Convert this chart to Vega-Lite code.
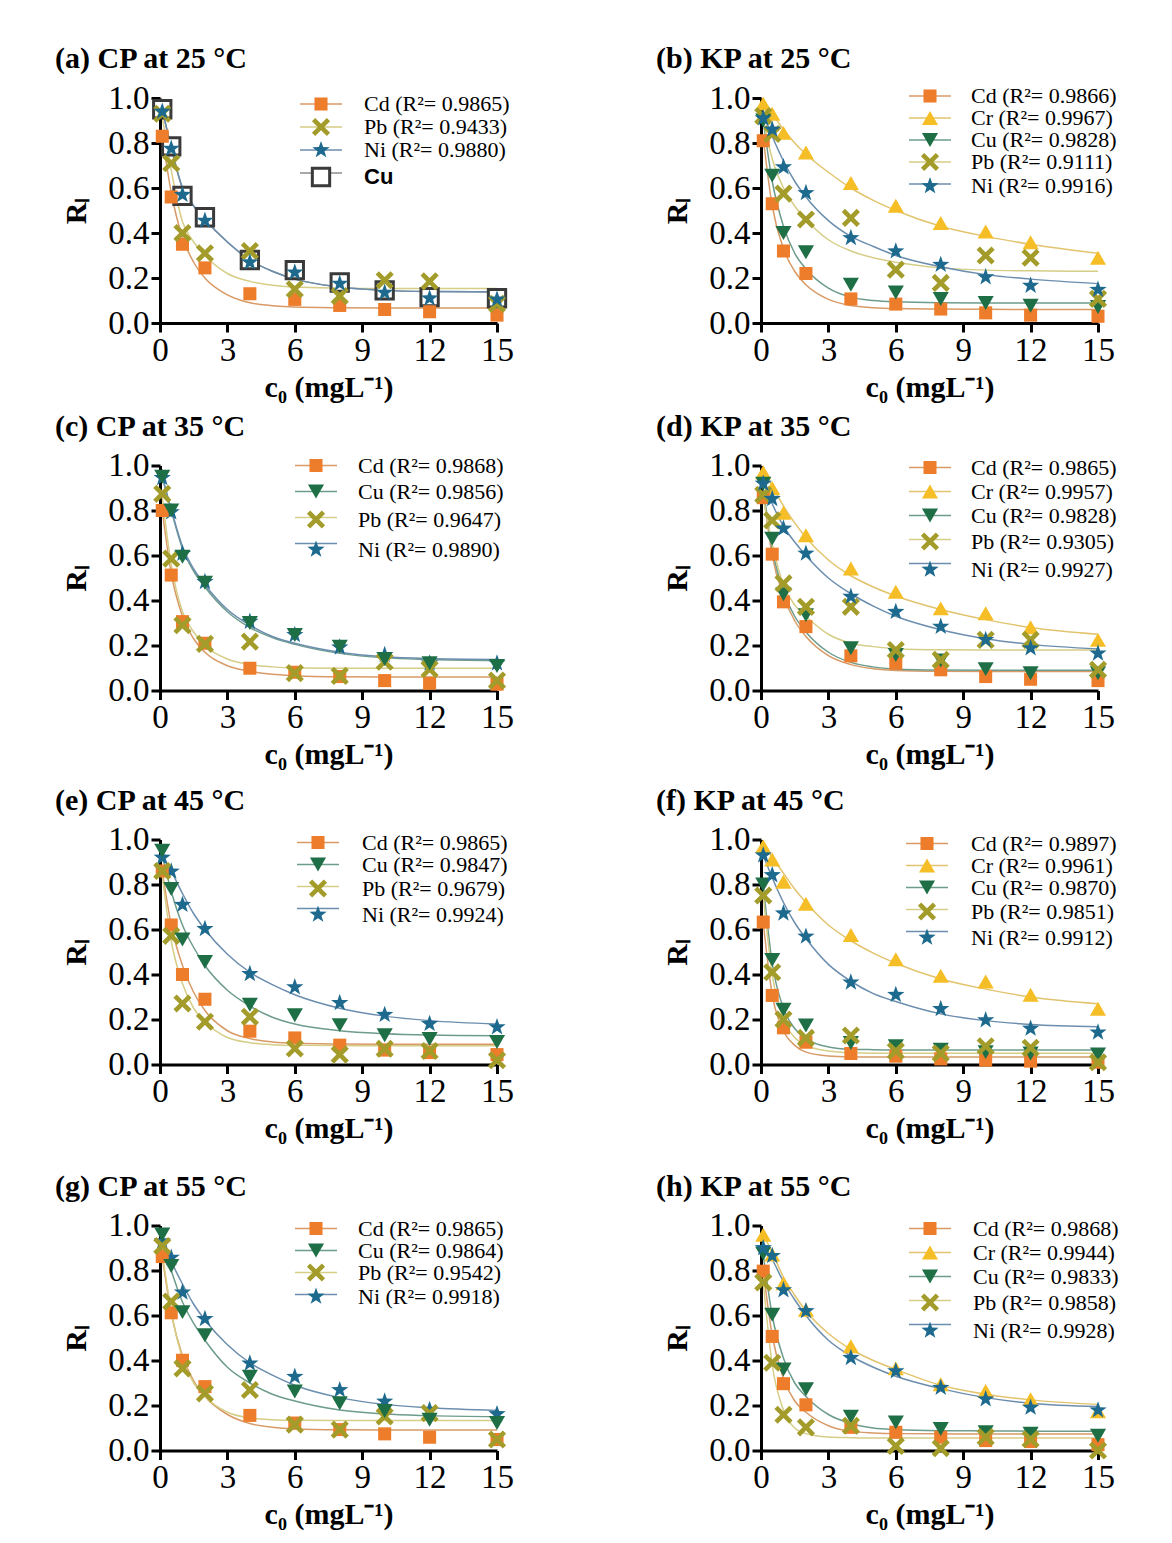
{
"$schema": "https://vega.github.io/schema/vega-lite/v6.json",
"padding": {"left": 55, "top": 44, "right": 10, "bottom": 5},
"background": "white",
"config": {
  "view": {"stroke": null},
  "font": "Liberation Serif",
  "axis": {"grid": false, "domainColor": "black", "domainWidth": 3, "tickColor": "black", "tickWidth": 3, "tickSize": 9, "labelFont": "Liberation Serif", "labelFontSize": 33, "labelColor": "black", "labelPadding": 2, "labelFlush": false, "labelOverlap": false, "titleFont": "Liberation Serif", "titleFontSize": 30, "titleFontWeight": "bold", "titleColor": "black"},
  "axisX": {"titlePadding": 5},
  "axisY": {"titlePadding": 16},
  "title": {"font": "Liberation Serif", "fontSize": 30, "fontWeight": "bold", "color": "black", "anchor": "start", "frame": "group", "offset": 8},
  "legend": {"labelFont": "Liberation Serif", "labelFontSize": 22, "labelColor": "black", "padding": 0}
},
"datasets": {
"pts": [
{"p":"a","m":"Cu","x":0.1,"y":0.95},{"p":"a","m":"Cu","x":0.5,"y":0.785},{"p":"a","m":"Cu","x":1,"y":0.565},{"p":"a","m":"Cu","x":2,"y":0.47},{"p":"a","m":"Cu","x":4,"y":0.28},{"p":"a","m":"Cu","x":6,"y":0.235},{"p":"a","m":"Cu","x":8,"y":0.18},{"p":"a","m":"Cu","x":10,"y":0.145},{"p":"a","m":"Cu","x":12,"y":0.115},{"p":"a","m":"Cu","x":15,"y":0.11},
{"p":"a","m":"Cd","x":0.1,"y":0.83},{"p":"a","m":"Cd","x":0.5,"y":0.56},{"p":"a","m":"Cd","x":1,"y":0.35},{"p":"a","m":"Cd","x":2,"y":0.245},{"p":"a","m":"Cd","x":4,"y":0.13},{"p":"a","m":"Cd","x":6,"y":0.105},{"p":"a","m":"Cd","x":8,"y":0.078},{"p":"a","m":"Cd","x":10,"y":0.06},{"p":"a","m":"Cd","x":12,"y":0.05},{"p":"a","m":"Cd","x":15,"y":0.035},
{"p":"a","m":"Pb","x":0.1,"y":0.93},{"p":"a","m":"Pb","x":0.5,"y":0.71},{"p":"a","m":"Pb","x":1,"y":0.40},{"p":"a","m":"Pb","x":2,"y":0.31},{"p":"a","m":"Pb","x":4,"y":0.32},{"p":"a","m":"Pb","x":6,"y":0.15},{"p":"a","m":"Pb","x":8,"y":0.12},{"p":"a","m":"Pb","x":10,"y":0.19},{"p":"a","m":"Pb","x":12,"y":0.185},{"p":"a","m":"Pb","x":15,"y":0.085},
{"p":"a","m":"Ni","x":0.1,"y":0.94},{"p":"a","m":"Ni","x":0.5,"y":0.775},{"p":"a","m":"Ni","x":1,"y":0.57},{"p":"a","m":"Ni","x":2,"y":0.455},{"p":"a","m":"Ni","x":4,"y":0.27},{"p":"a","m":"Ni","x":6,"y":0.225},{"p":"a","m":"Ni","x":8,"y":0.175},{"p":"a","m":"Ni","x":10,"y":0.135},{"p":"a","m":"Ni","x":12,"y":0.11},{"p":"a","m":"Ni","x":15,"y":0.105},
{"p":"b","m":"Cr","x":0.1,"y":0.975},{"p":"b","m":"Cr","x":0.5,"y":0.93},{"p":"b","m":"Cr","x":1,"y":0.845},{"p":"b","m":"Cr","x":2,"y":0.758},{"p":"b","m":"Cr","x":4,"y":0.622},{"p":"b","m":"Cr","x":6,"y":0.521},{"p":"b","m":"Cr","x":8,"y":0.444},{"p":"b","m":"Cr","x":10,"y":0.407},{"p":"b","m":"Cr","x":12,"y":0.359},{"p":"b","m":"Cr","x":15,"y":0.29},
{"p":"b","m":"Cd","x":0.1,"y":0.81},{"p":"b","m":"Cd","x":0.5,"y":0.53},{"p":"b","m":"Cd","x":1,"y":0.32},{"p":"b","m":"Cd","x":2,"y":0.22},{"p":"b","m":"Cd","x":4,"y":0.107},{"p":"b","m":"Cd","x":6,"y":0.084},{"p":"b","m":"Cd","x":8,"y":0.062},{"p":"b","m":"Cd","x":10,"y":0.045},{"p":"b","m":"Cd","x":12,"y":0.035},{"p":"b","m":"Cd","x":15,"y":0.03},
{"p":"b","m":"Cu","x":0.1,"y":0.9},{"p":"b","m":"Cu","x":0.5,"y":0.655},{"p":"b","m":"Cu","x":1,"y":0.40},{"p":"b","m":"Cu","x":2,"y":0.314},{"p":"b","m":"Cu","x":4,"y":0.17},{"p":"b","m":"Cu","x":6,"y":0.136},{"p":"b","m":"Cu","x":8,"y":0.107},{"p":"b","m":"Cu","x":10,"y":0.089},{"p":"b","m":"Cu","x":12,"y":0.077},{"p":"b","m":"Cu","x":15,"y":0.071},
{"p":"b","m":"Pb","x":0.1,"y":0.92},{"p":"b","m":"Pb","x":0.5,"y":0.84},{"p":"b","m":"Pb","x":1,"y":0.575},{"p":"b","m":"Pb","x":2,"y":0.46},{"p":"b","m":"Pb","x":4,"y":0.467},{"p":"b","m":"Pb","x":6,"y":0.237},{"p":"b","m":"Pb","x":8,"y":0.178},{"p":"b","m":"Pb","x":10,"y":0.30},{"p":"b","m":"Pb","x":12,"y":0.29},{"p":"b","m":"Pb","x":15,"y":0.107},
{"p":"b","m":"Ni","x":0.1,"y":0.91},{"p":"b","m":"Ni","x":0.5,"y":0.86},{"p":"b","m":"Ni","x":1,"y":0.693},{"p":"b","m":"Ni","x":2,"y":0.578},{"p":"b","m":"Ni","x":4,"y":0.378},{"p":"b","m":"Ni","x":6,"y":0.319},{"p":"b","m":"Ni","x":8,"y":0.259},{"p":"b","m":"Ni","x":10,"y":0.204},{"p":"b","m":"Ni","x":12,"y":0.166},{"p":"b","m":"Ni","x":15,"y":0.148},
{"p":"c","m":"Ni","x":0.1,"y":0.945},{"p":"c","m":"Ni","x":0.5,"y":0.793},{"p":"c","m":"Ni","x":1,"y":0.608},{"p":"c","m":"Ni","x":2,"y":0.483},{"p":"c","m":"Ni","x":4,"y":0.306},{"p":"c","m":"Ni","x":6,"y":0.247},{"p":"c","m":"Ni","x":8,"y":0.192},{"p":"c","m":"Ni","x":10,"y":0.158},{"p":"c","m":"Ni","x":12,"y":0.121},{"p":"c","m":"Ni","x":15,"y":0.121},
{"p":"c","m":"Cd","x":0.1,"y":0.80},{"p":"c","m":"Cd","x":0.5,"y":0.513},{"p":"c","m":"Cd","x":1,"y":0.306},{"p":"c","m":"Cd","x":2,"y":0.21},{"p":"c","m":"Cd","x":4,"y":0.099},{"p":"c","m":"Cd","x":6,"y":0.081},{"p":"c","m":"Cd","x":8,"y":0.062},{"p":"c","m":"Cd","x":10,"y":0.044},{"p":"c","m":"Cd","x":12,"y":0.032},{"p":"c","m":"Cd","x":15,"y":0.028},
{"p":"c","m":"Pb","x":0.1,"y":0.874},{"p":"c","m":"Pb","x":0.5,"y":0.586},{"p":"c","m":"Pb","x":1,"y":0.29},{"p":"c","m":"Pb","x":2,"y":0.207},{"p":"c","m":"Pb","x":4,"y":0.217},{"p":"c","m":"Pb","x":6,"y":0.077},{"p":"c","m":"Pb","x":8,"y":0.065},{"p":"c","m":"Pb","x":10,"y":0.128},{"p":"c","m":"Pb","x":12,"y":0.095},{"p":"c","m":"Pb","x":15,"y":0.044},
{"p":"c","m":"Cu","x":0.1,"y":0.95},{"p":"c","m":"Cu","x":0.5,"y":0.80},{"p":"c","m":"Cu","x":1,"y":0.594},{"p":"c","m":"Cu","x":2,"y":0.479},{"p":"c","m":"Cu","x":4,"y":0.30},{"p":"c","m":"Cu","x":6,"y":0.247},{"p":"c","m":"Cu","x":8,"y":0.195},{"p":"c","m":"Cu","x":10,"y":0.14},{"p":"c","m":"Cu","x":12,"y":0.121},{"p":"c","m":"Cu","x":15,"y":0.109},
{"p":"d","m":"Cr","x":0.1,"y":0.97},{"p":"d","m":"Cr","x":0.5,"y":0.90},{"p":"d","m":"Cr","x":1,"y":0.79},{"p":"d","m":"Cr","x":2,"y":0.69},{"p":"d","m":"Cr","x":4,"y":0.542},{"p":"d","m":"Cr","x":6,"y":0.439},{"p":"d","m":"Cr","x":8,"y":0.365},{"p":"d","m":"Cr","x":10,"y":0.343},{"p":"d","m":"Cr","x":12,"y":0.281},{"p":"d","m":"Cr","x":15,"y":0.225},
{"p":"d","m":"Cd","x":0.1,"y":0.857},{"p":"d","m":"Cd","x":0.5,"y":0.606},{"p":"d","m":"Cd","x":1,"y":0.394},{"p":"d","m":"Cd","x":2,"y":0.284},{"p":"d","m":"Cd","x":4,"y":0.154},{"p":"d","m":"Cd","x":6,"y":0.121},{"p":"d","m":"Cd","x":8,"y":0.092},{"p":"d","m":"Cd","x":10,"y":0.062},{"p":"d","m":"Cd","x":12,"y":0.05},{"p":"d","m":"Cd","x":15,"y":0.044},
{"p":"d","m":"Cu","x":0.1,"y":0.919},{"p":"d","m":"Cu","x":0.5,"y":0.675},{"p":"d","m":"Cu","x":1,"y":0.428},{"p":"d","m":"Cu","x":2,"y":0.335},{"p":"d","m":"Cu","x":4,"y":0.188},{"p":"d","m":"Cu","x":6,"y":0.158},{"p":"d","m":"Cu","x":8,"y":0.133},{"p":"d","m":"Cu","x":10,"y":0.095},{"p":"d","m":"Cu","x":12,"y":0.077},{"p":"d","m":"Cu","x":15,"y":0.077},
{"p":"d","m":"Pb","x":0.1,"y":0.87},{"p":"d","m":"Pb","x":0.5,"y":0.756},{"p":"d","m":"Pb","x":1,"y":0.476},{"p":"d","m":"Pb","x":2,"y":0.372},{"p":"d","m":"Pb","x":4,"y":0.372},{"p":"d","m":"Pb","x":6,"y":0.18},{"p":"d","m":"Pb","x":8,"y":0.136},{"p":"d","m":"Pb","x":10,"y":0.225},{"p":"d","m":"Pb","x":12,"y":0.225},{"p":"d","m":"Pb","x":15,"y":0.092},
{"p":"d","m":"Ni","x":0.1,"y":0.92},{"p":"d","m":"Ni","x":0.5,"y":0.852},{"p":"d","m":"Ni","x":1,"y":0.72},{"p":"d","m":"Ni","x":2,"y":0.609},{"p":"d","m":"Ni","x":4,"y":0.417},{"p":"d","m":"Ni","x":6,"y":0.35},{"p":"d","m":"Ni","x":8,"y":0.284},{"p":"d","m":"Ni","x":10,"y":0.225},{"p":"d","m":"Ni","x":12,"y":0.188},{"p":"d","m":"Ni","x":15,"y":0.165},
{"p":"e","m":"Ni","x":0.1,"y":0.92},{"p":"e","m":"Ni","x":0.5,"y":0.858},{"p":"e","m":"Ni","x":1,"y":0.71},{"p":"e","m":"Ni","x":2,"y":0.603},{"p":"e","m":"Ni","x":4,"y":0.403},{"p":"e","m":"Ni","x":6,"y":0.344},{"p":"e","m":"Ni","x":8,"y":0.274},{"p":"e","m":"Ni","x":10,"y":0.221},{"p":"e","m":"Ni","x":12,"y":0.181},{"p":"e","m":"Ni","x":15,"y":0.166},
{"p":"e","m":"Cd","x":0.1,"y":0.86},{"p":"e","m":"Cd","x":0.5,"y":0.62},{"p":"e","m":"Cd","x":1,"y":0.40},{"p":"e","m":"Cd","x":2,"y":0.29},{"p":"e","m":"Cd","x":4,"y":0.148},{"p":"e","m":"Cd","x":6,"y":0.118},{"p":"e","m":"Cd","x":8,"y":0.086},{"p":"e","m":"Cd","x":10,"y":0.064},{"p":"e","m":"Cd","x":12,"y":0.053},{"p":"e","m":"Cd","x":15,"y":0.044},
{"p":"e","m":"Pb","x":0.1,"y":0.86},{"p":"e","m":"Pb","x":0.5,"y":0.572},{"p":"e","m":"Pb","x":1,"y":0.271},{"p":"e","m":"Pb","x":2,"y":0.19},{"p":"e","m":"Pb","x":4,"y":0.212},{"p":"e","m":"Pb","x":6,"y":0.071},{"p":"e","m":"Pb","x":8,"y":0.044},{"p":"e","m":"Pb","x":10,"y":0.07},{"p":"e","m":"Pb","x":12,"y":0.06},{"p":"e","m":"Pb","x":15,"y":0.019},
{"p":"e","m":"Cu","x":0.1,"y":0.95},{"p":"e","m":"Cu","x":0.5,"y":0.78},{"p":"e","m":"Cu","x":1,"y":0.556},{"p":"e","m":"Cu","x":2,"y":0.456},{"p":"e","m":"Cu","x":4,"y":0.266},{"p":"e","m":"Cu","x":6,"y":0.219},{"p":"e","m":"Cu","x":8,"y":0.175},{"p":"e","m":"Cu","x":10,"y":0.13},{"p":"e","m":"Cu","x":12,"y":0.113},{"p":"e","m":"Cu","x":15,"y":0.10},
{"p":"f","m":"Cr","x":0.1,"y":0.97},{"p":"f","m":"Cr","x":0.5,"y":0.911},{"p":"f","m":"Cr","x":1,"y":0.812},{"p":"f","m":"Cr","x":2,"y":0.714},{"p":"f","m":"Cr","x":4,"y":0.576},{"p":"f","m":"Cr","x":6,"y":0.468},{"p":"f","m":"Cr","x":8,"y":0.394},{"p":"f","m":"Cr","x":10,"y":0.369},{"p":"f","m":"Cr","x":12,"y":0.31},{"p":"f","m":"Cr","x":15,"y":0.248},
{"p":"f","m":"Cd","x":0.1,"y":0.633},{"p":"f","m":"Cd","x":0.5,"y":0.307},{"p":"f","m":"Cd","x":1,"y":0.163},{"p":"f","m":"Cd","x":2,"y":0.099},{"p":"f","m":"Cd","x":4,"y":0.049},{"p":"f","m":"Cd","x":6,"y":0.037},{"p":"f","m":"Cd","x":8,"y":0.025},{"p":"f","m":"Cd","x":10,"y":0.019},{"p":"f","m":"Cd","x":12,"y":0.015},{"p":"f","m":"Cd","x":15,"y":0.01},
{"p":"f","m":"Cu","x":0.1,"y":0.80},{"p":"f","m":"Cu","x":0.5,"y":0.465},{"p":"f","m":"Cu","x":1,"y":0.243},{"p":"f","m":"Cu","x":2,"y":0.173},{"p":"f","m":"Cu","x":4,"y":0.096},{"p":"f","m":"Cu","x":6,"y":0.081},{"p":"f","m":"Cu","x":8,"y":0.066},{"p":"f","m":"Cu","x":10,"y":0.055},{"p":"f","m":"Cu","x":12,"y":0.049},{"p":"f","m":"Cu","x":15,"y":0.044},
{"p":"f","m":"Pb","x":0.1,"y":0.751},{"p":"f","m":"Pb","x":0.5,"y":0.41},{"p":"f","m":"Pb","x":1,"y":0.2},{"p":"f","m":"Pb","x":2,"y":0.118},{"p":"f","m":"Pb","x":4,"y":0.129},{"p":"f","m":"Pb","x":6,"y":0.06},{"p":"f","m":"Pb","x":8,"y":0.05},{"p":"f","m":"Pb","x":10,"y":0.081},{"p":"f","m":"Pb","x":12,"y":0.074},{"p":"f","m":"Pb","x":15,"y":0.01},
{"p":"f","m":"Ni","x":0.1,"y":0.93},{"p":"f","m":"Ni","x":0.5,"y":0.842},{"p":"f","m":"Ni","x":1,"y":0.672},{"p":"f","m":"Ni","x":2,"y":0.569},{"p":"f","m":"Ni","x":4,"y":0.365},{"p":"f","m":"Ni","x":6,"y":0.31},{"p":"f","m":"Ni","x":8,"y":0.247},{"p":"f","m":"Ni","x":10,"y":0.197},{"p":"f","m":"Ni","x":12,"y":0.16},{"p":"f","m":"Ni","x":15,"y":0.143},
{"p":"g","m":"Ni","x":0.1,"y":0.93},{"p":"g","m":"Ni","x":0.5,"y":0.857},{"p":"g","m":"Ni","x":1,"y":0.703},{"p":"g","m":"Ni","x":2,"y":0.585},{"p":"g","m":"Ni","x":4,"y":0.387},{"p":"g","m":"Ni","x":6,"y":0.328},{"p":"g","m":"Ni","x":8,"y":0.269},{"p":"g","m":"Ni","x":10,"y":0.218},{"p":"g","m":"Ni","x":12,"y":0.181},{"p":"g","m":"Ni","x":15,"y":0.162},
{"p":"g","m":"Cd","x":0.1,"y":0.862},{"p":"g","m":"Cd","x":0.5,"y":0.612},{"p":"g","m":"Cd","x":1,"y":0.401},{"p":"g","m":"Cd","x":2,"y":0.284},{"p":"g","m":"Cd","x":4,"y":0.156},{"p":"g","m":"Cd","x":6,"y":0.122},{"p":"g","m":"Cd","x":8,"y":0.093},{"p":"g","m":"Cd","x":10,"y":0.074},{"p":"g","m":"Cd","x":12,"y":0.059},{"p":"g","m":"Cd","x":15,"y":0.049},
{"p":"g","m":"Pb","x":0.1,"y":0.909},{"p":"g","m":"Pb","x":0.5,"y":0.662},{"p":"g","m":"Pb","x":1,"y":0.365},{"p":"g","m":"Pb","x":2,"y":0.254},{"p":"g","m":"Pb","x":4,"y":0.269},{"p":"g","m":"Pb","x":6,"y":0.115},{"p":"g","m":"Pb","x":8,"y":0.093},{"p":"g","m":"Pb","x":10,"y":0.151},{"p":"g","m":"Pb","x":12,"y":0.166},{"p":"g","m":"Pb","x":15,"y":0.049},
{"p":"g","m":"Cu","x":0.1,"y":0.96},{"p":"g","m":"Cu","x":0.5,"y":0.82},{"p":"g","m":"Cu","x":1,"y":0.615},{"p":"g","m":"Cu","x":2,"y":0.512},{"p":"g","m":"Cu","x":4,"y":0.328},{"p":"g","m":"Cu","x":6,"y":0.262},{"p":"g","m":"Cu","x":8,"y":0.21},{"p":"g","m":"Cu","x":10,"y":0.176},{"p":"g","m":"Cu","x":12,"y":0.137},{"p":"g","m":"Cu","x":15,"y":0.122},
{"p":"h","m":"Cr","x":0.1,"y":0.959},{"p":"h","m":"Cr","x":0.5,"y":0.871},{"p":"h","m":"Cr","x":1,"y":0.743},{"p":"h","m":"Cr","x":2,"y":0.625},{"p":"h","m":"Cr","x":4,"y":0.463},{"p":"h","m":"Cr","x":6,"y":0.365},{"p":"h","m":"Cr","x":8,"y":0.294},{"p":"h","m":"Cr","x":10,"y":0.265},{"p":"h","m":"Cr","x":12,"y":0.228},{"p":"h","m":"Cr","x":15,"y":0.174},
{"p":"h","m":"Cd","x":0.1,"y":0.797},{"p":"h","m":"Cd","x":0.5,"y":0.507},{"p":"h","m":"Cd","x":1,"y":0.297},{"p":"h","m":"Cd","x":2,"y":0.203},{"p":"h","m":"Cd","x":4,"y":0.103},{"p":"h","m":"Cd","x":6,"y":0.081},{"p":"h","m":"Cd","x":8,"y":0.059},{"p":"h","m":"Cd","x":10,"y":0.044},{"p":"h","m":"Cd","x":12,"y":0.04},{"p":"h","m":"Cd","x":15,"y":0.026},
{"p":"h","m":"Cu","x":0.1,"y":0.875},{"p":"h","m":"Cu","x":0.5,"y":0.603},{"p":"h","m":"Cu","x":1,"y":0.36},{"p":"h","m":"Cu","x":2,"y":0.272},{"p":"h","m":"Cu","x":4,"y":0.15},{"p":"h","m":"Cu","x":6,"y":0.125},{"p":"h","m":"Cu","x":8,"y":0.096},{"p":"h","m":"Cu","x":10,"y":0.081},{"p":"h","m":"Cu","x":12,"y":0.074},{"p":"h","m":"Cu","x":15,"y":0.066},
{"p":"h","m":"Pb","x":0.1,"y":0.747},{"p":"h","m":"Pb","x":0.5,"y":0.39},{"p":"h","m":"Pb","x":1,"y":0.159},{"p":"h","m":"Pb","x":2,"y":0.103},{"p":"h","m":"Pb","x":4,"y":0.11},{"p":"h","m":"Pb","x":6,"y":0.02},{"p":"h","m":"Pb","x":8,"y":0.01},{"p":"h","m":"Pb","x":10,"y":0.06},{"p":"h","m":"Pb","x":12,"y":0.05},{"p":"h","m":"Pb","x":15,"y":0.0},
{"p":"h","m":"Ni","x":0.1,"y":0.9},{"p":"h","m":"Ni","x":0.5,"y":0.865},{"p":"h","m":"Ni","x":1,"y":0.713},{"p":"h","m":"Ni","x":2,"y":0.62},{"p":"h","m":"Ni","x":4,"y":0.412},{"p":"h","m":"Ni","x":6,"y":0.353},{"p":"h","m":"Ni","x":8,"y":0.279},{"p":"h","m":"Ni","x":10,"y":0.228},{"p":"h","m":"Ni","x":12,"y":0.191},{"p":"h","m":"Ni","x":15,"y":0.179}
],
"fit": [
{"p":"a","m":"Cu","x":0.1,"y":0.95},{"p":"a","m":"Cu","x":0.5,"y":0.78},{"p":"a","m":"Cu","x":1,"y":0.6},{"p":"a","m":"Cu","x":1.5,"y":0.52},{"p":"a","m":"Cu","x":2,"y":0.46},{"p":"a","m":"Cu","x":3,"y":0.36},{"p":"a","m":"Cu","x":4,"y":0.28},{"p":"a","m":"Cu","x":5,"y":0.23},{"p":"a","m":"Cu","x":6,"y":0.195},{"p":"a","m":"Cu","x":8,"y":0.16},{"p":"a","m":"Cu","x":10,"y":0.145},{"p":"a","m":"Cu","x":12,"y":0.14},{"p":"a","m":"Cu","x":15,"y":0.138},
{"p":"a","m":"Cd","x":0.1,"y":0.83},{"p":"a","m":"Cd","x":0.5,"y":0.58},{"p":"a","m":"Cd","x":1,"y":0.38},{"p":"a","m":"Cd","x":1.5,"y":0.27},{"p":"a","m":"Cd","x":2,"y":0.2},{"p":"a","m":"Cd","x":3,"y":0.125},{"p":"a","m":"Cd","x":4,"y":0.09},{"p":"a","m":"Cd","x":5,"y":0.077},{"p":"a","m":"Cd","x":6,"y":0.071},{"p":"a","m":"Cd","x":8,"y":0.068},{"p":"a","m":"Cd","x":10,"y":0.067},{"p":"a","m":"Cd","x":12,"y":0.067},{"p":"a","m":"Cd","x":15,"y":0.067},
{"p":"a","m":"Pb","x":0.1,"y":0.92},{"p":"a","m":"Pb","x":0.5,"y":0.68},{"p":"a","m":"Pb","x":1,"y":0.45},{"p":"a","m":"Pb","x":1.5,"y":0.36},{"p":"a","m":"Pb","x":2,"y":0.3},{"p":"a","m":"Pb","x":3,"y":0.22},{"p":"a","m":"Pb","x":4,"y":0.185},{"p":"a","m":"Pb","x":5,"y":0.168},{"p":"a","m":"Pb","x":6,"y":0.16},{"p":"a","m":"Pb","x":8,"y":0.155},{"p":"a","m":"Pb","x":10,"y":0.153},{"p":"a","m":"Pb","x":12,"y":0.153},{"p":"a","m":"Pb","x":15,"y":0.153},
{"p":"a","m":"Ni","x":0.1,"y":0.95},{"p":"a","m":"Ni","x":0.5,"y":0.78},{"p":"a","m":"Ni","x":1,"y":0.6},{"p":"a","m":"Ni","x":1.5,"y":0.52},{"p":"a","m":"Ni","x":2,"y":0.46},{"p":"a","m":"Ni","x":3,"y":0.36},{"p":"a","m":"Ni","x":4,"y":0.28},{"p":"a","m":"Ni","x":5,"y":0.23},{"p":"a","m":"Ni","x":6,"y":0.195},{"p":"a","m":"Ni","x":8,"y":0.16},{"p":"a","m":"Ni","x":10,"y":0.145},{"p":"a","m":"Ni","x":12,"y":0.14},{"p":"a","m":"Ni","x":15,"y":0.138},
{"p":"b","m":"Cd","x":0.1,"y":0.82},{"p":"b","m":"Cd","x":0.5,"y":0.52},{"p":"b","m":"Cd","x":1,"y":0.33},{"p":"b","m":"Cd","x":1.5,"y":0.23},{"p":"b","m":"Cd","x":2,"y":0.17},{"p":"b","m":"Cd","x":3,"y":0.105},{"p":"b","m":"Cd","x":4,"y":0.078},{"p":"b","m":"Cd","x":5,"y":0.068},{"p":"b","m":"Cd","x":6,"y":0.064},{"p":"b","m":"Cd","x":8,"y":0.062},{"p":"b","m":"Cd","x":10,"y":0.061},{"p":"b","m":"Cd","x":12,"y":0.06},{"p":"b","m":"Cd","x":15,"y":0.06},
{"p":"b","m":"Cr","x":0.1,"y":0.99},{"p":"b","m":"Cr","x":0.5,"y":0.93},{"p":"b","m":"Cr","x":1,"y":0.86},{"p":"b","m":"Cr","x":1.5,"y":0.8},{"p":"b","m":"Cr","x":2,"y":0.75},{"p":"b","m":"Cr","x":3,"y":0.67},{"p":"b","m":"Cr","x":4,"y":0.6},{"p":"b","m":"Cr","x":5,"y":0.545},{"p":"b","m":"Cr","x":6,"y":0.5},{"p":"b","m":"Cr","x":8,"y":0.43},{"p":"b","m":"Cr","x":10,"y":0.385},{"p":"b","m":"Cr","x":12,"y":0.35},{"p":"b","m":"Cr","x":15,"y":0.31},
{"p":"b","m":"Cu","x":0.1,"y":0.9},{"p":"b","m":"Cu","x":0.5,"y":0.63},{"p":"b","m":"Cu","x":1,"y":0.43},{"p":"b","m":"Cu","x":1.5,"y":0.31},{"p":"b","m":"Cu","x":2,"y":0.24},{"p":"b","m":"Cu","x":3,"y":0.155},{"p":"b","m":"Cu","x":4,"y":0.115},{"p":"b","m":"Cu","x":5,"y":0.1},{"p":"b","m":"Cu","x":6,"y":0.094},{"p":"b","m":"Cu","x":8,"y":0.09},{"p":"b","m":"Cu","x":10,"y":0.089},{"p":"b","m":"Cu","x":12,"y":0.089},{"p":"b","m":"Cu","x":15,"y":0.089},
{"p":"b","m":"Pb","x":0.1,"y":0.9},{"p":"b","m":"Pb","x":0.5,"y":0.73},{"p":"b","m":"Pb","x":1,"y":0.6},{"p":"b","m":"Pb","x":1.5,"y":0.52},{"p":"b","m":"Pb","x":2,"y":0.46},{"p":"b","m":"Pb","x":3,"y":0.37},{"p":"b","m":"Pb","x":4,"y":0.32},{"p":"b","m":"Pb","x":5,"y":0.29},{"p":"b","m":"Pb","x":6,"y":0.27},{"p":"b","m":"Pb","x":8,"y":0.245},{"p":"b","m":"Pb","x":10,"y":0.235},{"p":"b","m":"Pb","x":12,"y":0.232},{"p":"b","m":"Pb","x":15,"y":0.23},
{"p":"b","m":"Ni","x":0.1,"y":0.93},{"p":"b","m":"Ni","x":0.5,"y":0.83},{"p":"b","m":"Ni","x":1,"y":0.72},{"p":"b","m":"Ni","x":1.5,"y":0.63},{"p":"b","m":"Ni","x":2,"y":0.56},{"p":"b","m":"Ni","x":3,"y":0.455},{"p":"b","m":"Ni","x":4,"y":0.385},{"p":"b","m":"Ni","x":5,"y":0.34},{"p":"b","m":"Ni","x":6,"y":0.3},{"p":"b","m":"Ni","x":8,"y":0.25},{"p":"b","m":"Ni","x":10,"y":0.215},{"p":"b","m":"Ni","x":12,"y":0.195},{"p":"b","m":"Ni","x":15,"y":0.175},
{"p":"c","m":"Cd","x":0.1,"y":0.80},{"p":"c","m":"Cd","x":0.5,"y":0.52},{"p":"c","m":"Cd","x":1,"y":0.33},{"p":"c","m":"Cd","x":1.5,"y":0.23},{"p":"c","m":"Cd","x":2,"y":0.17},{"p":"c","m":"Cd","x":3,"y":0.11},{"p":"c","m":"Cd","x":4,"y":0.085},{"p":"c","m":"Cd","x":5,"y":0.072},{"p":"c","m":"Cd","x":6,"y":0.066},{"p":"c","m":"Cd","x":8,"y":0.061},{"p":"c","m":"Cd","x":10,"y":0.06},{"p":"c","m":"Cd","x":12,"y":0.06},{"p":"c","m":"Cd","x":15,"y":0.06},
{"p":"c","m":"Cu","x":0.1,"y":0.95},{"p":"c","m":"Cu","x":0.5,"y":0.8},{"p":"c","m":"Cu","x":1,"y":0.63},{"p":"c","m":"Cu","x":1.5,"y":0.53},{"p":"c","m":"Cu","x":2,"y":0.46},{"p":"c","m":"Cu","x":3,"y":0.35},{"p":"c","m":"Cu","x":4,"y":0.28},{"p":"c","m":"Cu","x":5,"y":0.235},{"p":"c","m":"Cu","x":6,"y":0.205},{"p":"c","m":"Cu","x":8,"y":0.165},{"p":"c","m":"Cu","x":10,"y":0.145},{"p":"c","m":"Cu","x":12,"y":0.138},{"p":"c","m":"Cu","x":15,"y":0.133},
{"p":"c","m":"Pb","x":0.1,"y":0.86},{"p":"c","m":"Pb","x":0.5,"y":0.56},{"p":"c","m":"Pb","x":1,"y":0.35},{"p":"c","m":"Pb","x":1.5,"y":0.26},{"p":"c","m":"Pb","x":2,"y":0.2},{"p":"c","m":"Pb","x":3,"y":0.14},{"p":"c","m":"Pb","x":4,"y":0.115},{"p":"c","m":"Pb","x":5,"y":0.105},{"p":"c","m":"Pb","x":6,"y":0.1},{"p":"c","m":"Pb","x":8,"y":0.099},{"p":"c","m":"Pb","x":10,"y":0.099},{"p":"c","m":"Pb","x":12,"y":0.099},{"p":"c","m":"Pb","x":15,"y":0.099},
{"p":"c","m":"Ni","x":0.1,"y":0.95},{"p":"c","m":"Ni","x":0.5,"y":0.805},{"p":"c","m":"Ni","x":1,"y":0.64},{"p":"c","m":"Ni","x":1.5,"y":0.54},{"p":"c","m":"Ni","x":2,"y":0.47},{"p":"c","m":"Ni","x":3,"y":0.36},{"p":"c","m":"Ni","x":4,"y":0.29},{"p":"c","m":"Ni","x":5,"y":0.24},{"p":"c","m":"Ni","x":6,"y":0.21},{"p":"c","m":"Ni","x":8,"y":0.17},{"p":"c","m":"Ni","x":10,"y":0.15},{"p":"c","m":"Ni","x":12,"y":0.142},{"p":"c","m":"Ni","x":15,"y":0.138},
{"p":"d","m":"Cd","x":0.1,"y":0.88},{"p":"d","m":"Cd","x":0.5,"y":0.6},{"p":"d","m":"Cd","x":1,"y":0.42},{"p":"d","m":"Cd","x":1.5,"y":0.31},{"p":"d","m":"Cd","x":2,"y":0.24},{"p":"d","m":"Cd","x":3,"y":0.155},{"p":"d","m":"Cd","x":4,"y":0.115},{"p":"d","m":"Cd","x":5,"y":0.097},{"p":"d","m":"Cd","x":6,"y":0.089},{"p":"d","m":"Cd","x":8,"y":0.085},{"p":"d","m":"Cd","x":10,"y":0.084},{"p":"d","m":"Cd","x":12,"y":0.084},{"p":"d","m":"Cd","x":15,"y":0.084},
{"p":"d","m":"Cr","x":0.1,"y":0.98},{"p":"d","m":"Cr","x":0.5,"y":0.91},{"p":"d","m":"Cr","x":1,"y":0.82},{"p":"d","m":"Cr","x":1.5,"y":0.745},{"p":"d","m":"Cr","x":2,"y":0.68},{"p":"d","m":"Cr","x":3,"y":0.58},{"p":"d","m":"Cr","x":4,"y":0.51},{"p":"d","m":"Cr","x":5,"y":0.46},{"p":"d","m":"Cr","x":6,"y":0.42},{"p":"d","m":"Cr","x":8,"y":0.36},{"p":"d","m":"Cr","x":10,"y":0.315},{"p":"d","m":"Cr","x":12,"y":0.28},{"p":"d","m":"Cr","x":15,"y":0.25},
{"p":"d","m":"Cu","x":0.1,"y":0.9},{"p":"d","m":"Cu","x":0.5,"y":0.63},{"p":"d","m":"Cu","x":1,"y":0.44},{"p":"d","m":"Cu","x":1.5,"y":0.33},{"p":"d","m":"Cu","x":2,"y":0.26},{"p":"d","m":"Cu","x":3,"y":0.17},{"p":"d","m":"Cu","x":4,"y":0.125},{"p":"d","m":"Cu","x":5,"y":0.105},{"p":"d","m":"Cu","x":6,"y":0.096},{"p":"d","m":"Cu","x":8,"y":0.091},{"p":"d","m":"Cu","x":10,"y":0.09},{"p":"d","m":"Cu","x":12,"y":0.09},{"p":"d","m":"Cu","x":15,"y":0.09},
{"p":"d","m":"Pb","x":0.1,"y":0.86},{"p":"d","m":"Pb","x":0.5,"y":0.65},{"p":"d","m":"Pb","x":1,"y":0.47},{"p":"d","m":"Pb","x":1.5,"y":0.38},{"p":"d","m":"Pb","x":2,"y":0.33},{"p":"d","m":"Pb","x":3,"y":0.25},{"p":"d","m":"Pb","x":4,"y":0.21},{"p":"d","m":"Pb","x":5,"y":0.195},{"p":"d","m":"Pb","x":6,"y":0.186},{"p":"d","m":"Pb","x":8,"y":0.181},{"p":"d","m":"Pb","x":10,"y":0.18},{"p":"d","m":"Pb","x":12,"y":0.18},{"p":"d","m":"Pb","x":15,"y":0.18},
{"p":"d","m":"Ni","x":0.1,"y":0.93},{"p":"d","m":"Ni","x":0.5,"y":0.83},{"p":"d","m":"Ni","x":1,"y":0.73},{"p":"d","m":"Ni","x":1.5,"y":0.66},{"p":"d","m":"Ni","x":2,"y":0.6},{"p":"d","m":"Ni","x":3,"y":0.5},{"p":"d","m":"Ni","x":4,"y":0.43},{"p":"d","m":"Ni","x":5,"y":0.375},{"p":"d","m":"Ni","x":6,"y":0.33},{"p":"d","m":"Ni","x":8,"y":0.27},{"p":"d","m":"Ni","x":10,"y":0.23},{"p":"d","m":"Ni","x":12,"y":0.205},{"p":"d","m":"Ni","x":15,"y":0.185},
{"p":"e","m":"Cd","x":0.1,"y":0.86},{"p":"e","m":"Cd","x":0.5,"y":0.62},{"p":"e","m":"Cd","x":1,"y":0.44},{"p":"e","m":"Cd","x":1.5,"y":0.32},{"p":"e","m":"Cd","x":2,"y":0.24},{"p":"e","m":"Cd","x":3,"y":0.15},{"p":"e","m":"Cd","x":4,"y":0.115},{"p":"e","m":"Cd","x":5,"y":0.1},{"p":"e","m":"Cd","x":6,"y":0.094},{"p":"e","m":"Cd","x":8,"y":0.091},{"p":"e","m":"Cd","x":10,"y":0.09},{"p":"e","m":"Cd","x":12,"y":0.09},{"p":"e","m":"Cd","x":15,"y":0.09},
{"p":"e","m":"Cu","x":0.1,"y":0.93},{"p":"e","m":"Cu","x":0.5,"y":0.77},{"p":"e","m":"Cu","x":1,"y":0.62},{"p":"e","m":"Cu","x":1.5,"y":0.52},{"p":"e","m":"Cu","x":2,"y":0.44},{"p":"e","m":"Cu","x":3,"y":0.33},{"p":"e","m":"Cu","x":4,"y":0.26},{"p":"e","m":"Cu","x":5,"y":0.21},{"p":"e","m":"Cu","x":6,"y":0.18},{"p":"e","m":"Cu","x":8,"y":0.15},{"p":"e","m":"Cu","x":10,"y":0.137},{"p":"e","m":"Cu","x":12,"y":0.131},{"p":"e","m":"Cu","x":15,"y":0.128},
{"p":"e","m":"Pb","x":0.1,"y":0.84},{"p":"e","m":"Pb","x":0.5,"y":0.55},{"p":"e","m":"Pb","x":1,"y":0.36},{"p":"e","m":"Pb","x":1.5,"y":0.25},{"p":"e","m":"Pb","x":2,"y":0.19},{"p":"e","m":"Pb","x":3,"y":0.12},{"p":"e","m":"Pb","x":4,"y":0.097},{"p":"e","m":"Pb","x":5,"y":0.088},{"p":"e","m":"Pb","x":6,"y":0.085},{"p":"e","m":"Pb","x":8,"y":0.084},{"p":"e","m":"Pb","x":10,"y":0.083},{"p":"e","m":"Pb","x":12,"y":0.083},{"p":"e","m":"Pb","x":15,"y":0.083},
{"p":"e","m":"Ni","x":0.1,"y":0.93},{"p":"e","m":"Ni","x":0.5,"y":0.86},{"p":"e","m":"Ni","x":1,"y":0.76},{"p":"e","m":"Ni","x":1.5,"y":0.67},{"p":"e","m":"Ni","x":2,"y":0.6},{"p":"e","m":"Ni","x":3,"y":0.49},{"p":"e","m":"Ni","x":4,"y":0.41},{"p":"e","m":"Ni","x":5,"y":0.355},{"p":"e","m":"Ni","x":6,"y":0.31},{"p":"e","m":"Ni","x":8,"y":0.25},{"p":"e","m":"Ni","x":10,"y":0.215},{"p":"e","m":"Ni","x":12,"y":0.195},{"p":"e","m":"Ni","x":15,"y":0.18},
{"p":"f","m":"Cd","x":0.1,"y":0.63},{"p":"f","m":"Cd","x":0.5,"y":0.31},{"p":"f","m":"Cd","x":1,"y":0.15},{"p":"f","m":"Cd","x":1.5,"y":0.085},{"p":"f","m":"Cd","x":2,"y":0.055},{"p":"f","m":"Cd","x":3,"y":0.038},{"p":"f","m":"Cd","x":4,"y":0.034},{"p":"f","m":"Cd","x":5,"y":0.033},{"p":"f","m":"Cd","x":6,"y":0.033},{"p":"f","m":"Cd","x":8,"y":0.033},{"p":"f","m":"Cd","x":10,"y":0.033},{"p":"f","m":"Cd","x":12,"y":0.033},{"p":"f","m":"Cd","x":15,"y":0.033},
{"p":"f","m":"Cr","x":0.1,"y":0.98},{"p":"f","m":"Cr","x":0.5,"y":0.92},{"p":"f","m":"Cr","x":1,"y":0.85},{"p":"f","m":"Cr","x":1.5,"y":0.78},{"p":"f","m":"Cr","x":2,"y":0.72},{"p":"f","m":"Cr","x":3,"y":0.62},{"p":"f","m":"Cr","x":4,"y":0.55},{"p":"f","m":"Cr","x":5,"y":0.495},{"p":"f","m":"Cr","x":6,"y":0.45},{"p":"f","m":"Cr","x":8,"y":0.38},{"p":"f","m":"Cr","x":10,"y":0.335},{"p":"f","m":"Cr","x":12,"y":0.3},{"p":"f","m":"Cr","x":15,"y":0.27},
{"p":"f","m":"Cu","x":0.1,"y":0.8},{"p":"f","m":"Cu","x":0.5,"y":0.45},{"p":"f","m":"Cu","x":1,"y":0.25},{"p":"f","m":"Cu","x":1.5,"y":0.16},{"p":"f","m":"Cu","x":2,"y":0.115},{"p":"f","m":"Cu","x":3,"y":0.078},{"p":"f","m":"Cu","x":4,"y":0.068},{"p":"f","m":"Cu","x":5,"y":0.066},{"p":"f","m":"Cu","x":6,"y":0.065},{"p":"f","m":"Cu","x":8,"y":0.065},{"p":"f","m":"Cu","x":10,"y":0.065},{"p":"f","m":"Cu","x":12,"y":0.065},{"p":"f","m":"Cu","x":15,"y":0.065},
{"p":"f","m":"Pb","x":0.1,"y":0.75},{"p":"f","m":"Pb","x":0.5,"y":0.4},{"p":"f","m":"Pb","x":1,"y":0.2},{"p":"f","m":"Pb","x":1.5,"y":0.12},{"p":"f","m":"Pb","x":2,"y":0.085},{"p":"f","m":"Pb","x":3,"y":0.06},{"p":"f","m":"Pb","x":4,"y":0.052},{"p":"f","m":"Pb","x":5,"y":0.05},{"p":"f","m":"Pb","x":6,"y":0.05},{"p":"f","m":"Pb","x":8,"y":0.05},{"p":"f","m":"Pb","x":10,"y":0.05},{"p":"f","m":"Pb","x":12,"y":0.05},{"p":"f","m":"Pb","x":15,"y":0.05},
{"p":"f","m":"Ni","x":0.1,"y":0.93},{"p":"f","m":"Ni","x":0.5,"y":0.83},{"p":"f","m":"Ni","x":1,"y":0.72},{"p":"f","m":"Ni","x":1.5,"y":0.63},{"p":"f","m":"Ni","x":2,"y":0.56},{"p":"f","m":"Ni","x":3,"y":0.445},{"p":"f","m":"Ni","x":4,"y":0.37},{"p":"f","m":"Ni","x":5,"y":0.315},{"p":"f","m":"Ni","x":6,"y":0.28},{"p":"f","m":"Ni","x":8,"y":0.225},{"p":"f","m":"Ni","x":10,"y":0.195},{"p":"f","m":"Ni","x":12,"y":0.178},{"p":"f","m":"Ni","x":15,"y":0.168},
{"p":"g","m":"Cd","x":0.1,"y":0.86},{"p":"g","m":"Cd","x":0.5,"y":0.61},{"p":"g","m":"Cd","x":1,"y":0.42},{"p":"g","m":"Cd","x":1.5,"y":0.31},{"p":"g","m":"Cd","x":2,"y":0.24},{"p":"g","m":"Cd","x":3,"y":0.16},{"p":"g","m":"Cd","x":4,"y":0.12},{"p":"g","m":"Cd","x":5,"y":0.103},{"p":"g","m":"Cd","x":6,"y":0.096},{"p":"g","m":"Cd","x":8,"y":0.092},{"p":"g","m":"Cd","x":10,"y":0.091},{"p":"g","m":"Cd","x":12,"y":0.091},{"p":"g","m":"Cd","x":15,"y":0.091},
{"p":"g","m":"Cu","x":0.1,"y":0.93},{"p":"g","m":"Cu","x":0.5,"y":0.8},{"p":"g","m":"Cu","x":1,"y":0.66},{"p":"g","m":"Cu","x":1.5,"y":0.565},{"p":"g","m":"Cu","x":2,"y":0.49},{"p":"g","m":"Cu","x":3,"y":0.37},{"p":"g","m":"Cu","x":4,"y":0.3},{"p":"g","m":"Cu","x":5,"y":0.25},{"p":"g","m":"Cu","x":6,"y":0.22},{"p":"g","m":"Cu","x":8,"y":0.18},{"p":"g","m":"Cu","x":10,"y":0.162},{"p":"g","m":"Cu","x":12,"y":0.155},{"p":"g","m":"Cu","x":15,"y":0.15},
{"p":"g","m":"Pb","x":0.1,"y":0.88},{"p":"g","m":"Pb","x":0.5,"y":0.62},{"p":"g","m":"Pb","x":1,"y":0.41},{"p":"g","m":"Pb","x":1.5,"y":0.3},{"p":"g","m":"Pb","x":2,"y":0.24},{"p":"g","m":"Pb","x":3,"y":0.17},{"p":"g","m":"Pb","x":4,"y":0.145},{"p":"g","m":"Pb","x":5,"y":0.137},{"p":"g","m":"Pb","x":6,"y":0.134},{"p":"g","m":"Pb","x":8,"y":0.133},{"p":"g","m":"Pb","x":10,"y":0.133},{"p":"g","m":"Pb","x":12,"y":0.133},{"p":"g","m":"Pb","x":15,"y":0.133},
{"p":"g","m":"Ni","x":0.1,"y":0.93},{"p":"g","m":"Ni","x":0.5,"y":0.84},{"p":"g","m":"Ni","x":1,"y":0.74},{"p":"g","m":"Ni","x":1.5,"y":0.65},{"p":"g","m":"Ni","x":2,"y":0.58},{"p":"g","m":"Ni","x":3,"y":0.47},{"p":"g","m":"Ni","x":4,"y":0.39},{"p":"g","m":"Ni","x":5,"y":0.335},{"p":"g","m":"Ni","x":6,"y":0.29},{"p":"g","m":"Ni","x":8,"y":0.235},{"p":"g","m":"Ni","x":10,"y":0.205},{"p":"g","m":"Ni","x":12,"y":0.19},{"p":"g","m":"Ni","x":15,"y":0.178},
{"p":"h","m":"Cd","x":0.1,"y":0.8},{"p":"h","m":"Cd","x":0.5,"y":0.51},{"p":"h","m":"Cd","x":1,"y":0.32},{"p":"h","m":"Cd","x":1.5,"y":0.22},{"p":"h","m":"Cd","x":2,"y":0.17},{"p":"h","m":"Cd","x":3,"y":0.11},{"p":"h","m":"Cd","x":4,"y":0.085},{"p":"h","m":"Cd","x":5,"y":0.078},{"p":"h","m":"Cd","x":6,"y":0.075},{"p":"h","m":"Cd","x":8,"y":0.074},{"p":"h","m":"Cd","x":10,"y":0.073},{"p":"h","m":"Cd","x":12,"y":0.073},{"p":"h","m":"Cd","x":15,"y":0.073},
{"p":"h","m":"Cr","x":0.1,"y":0.96},{"p":"h","m":"Cr","x":0.5,"y":0.88},{"p":"h","m":"Cr","x":1,"y":0.77},{"p":"h","m":"Cr","x":1.5,"y":0.69},{"p":"h","m":"Cr","x":2,"y":0.62},{"p":"h","m":"Cr","x":3,"y":0.52},{"p":"h","m":"Cr","x":4,"y":0.45},{"p":"h","m":"Cr","x":5,"y":0.4},{"p":"h","m":"Cr","x":6,"y":0.36},{"p":"h","m":"Cr","x":8,"y":0.29},{"p":"h","m":"Cr","x":10,"y":0.25},{"p":"h","m":"Cr","x":12,"y":0.225},{"p":"h","m":"Cr","x":15,"y":0.205},
{"p":"h","m":"Cu","x":0.1,"y":0.87},{"p":"h","m":"Cu","x":0.5,"y":0.6},{"p":"h","m":"Cu","x":1,"y":0.41},{"p":"h","m":"Cu","x":1.5,"y":0.3},{"p":"h","m":"Cu","x":2,"y":0.24},{"p":"h","m":"Cu","x":3,"y":0.16},{"p":"h","m":"Cu","x":4,"y":0.12},{"p":"h","m":"Cu","x":5,"y":0.1},{"p":"h","m":"Cu","x":6,"y":0.093},{"p":"h","m":"Cu","x":8,"y":0.088},{"p":"h","m":"Cu","x":10,"y":0.087},{"p":"h","m":"Cu","x":12,"y":0.086},{"p":"h","m":"Cu","x":15,"y":0.086},
{"p":"h","m":"Pb","x":0.1,"y":0.75},{"p":"h","m":"Pb","x":0.5,"y":0.38},{"p":"h","m":"Pb","x":1,"y":0.18},{"p":"h","m":"Pb","x":1.5,"y":0.1},{"p":"h","m":"Pb","x":2,"y":0.075},{"p":"h","m":"Pb","x":3,"y":0.06},{"p":"h","m":"Pb","x":4,"y":0.057},{"p":"h","m":"Pb","x":5,"y":0.056},{"p":"h","m":"Pb","x":6,"y":0.056},{"p":"h","m":"Pb","x":8,"y":0.056},{"p":"h","m":"Pb","x":10,"y":0.056},{"p":"h","m":"Pb","x":12,"y":0.056},{"p":"h","m":"Pb","x":15,"y":0.056},
{"p":"h","m":"Ni","x":0.1,"y":0.92},{"p":"h","m":"Ni","x":0.5,"y":0.85},{"p":"h","m":"Ni","x":1,"y":0.75},{"p":"h","m":"Ni","x":1.5,"y":0.67},{"p":"h","m":"Ni","x":2,"y":0.6},{"p":"h","m":"Ni","x":3,"y":0.49},{"p":"h","m":"Ni","x":4,"y":0.42},{"p":"h","m":"Ni","x":5,"y":0.37},{"p":"h","m":"Ni","x":6,"y":0.33},{"p":"h","m":"Ni","x":8,"y":0.275},{"p":"h","m":"Ni","x":10,"y":0.235},{"p":"h","m":"Ni","x":12,"y":0.21},{"p":"h","m":"Ni","x":15,"y":0.195}
]
},
"resolve": {"scale": {"color": "independent", "fill": "independent", "shape": "independent", "size": "independent", "stroke": "independent", "strokeWidth": "independent", "x": "independent", "y": "independent"}},
"spacing": 15.5,
"vconcat": [
{"spacing": 9.5, "resolve": {"scale": {"color": "independent", "fill": "independent", "shape": "independent", "size": "independent", "stroke": "independent", "strokeWidth": "independent", "x": "independent", "y": "independent"}},
 "vconcat": [
{"spacing": 142, "resolve": {"scale": {"color": "independent", "fill": "independent", "shape": "independent", "size": "independent", "stroke": "independent", "strokeWidth": "independent", "x": "independent", "y": "independent"}},
 "hconcat": [
  {"width": 337, "height": 225, "title": {"text": "(a) CP at 25 °C", "dx": -105},
   "layer": [
    {"data": {"name": "fit"}, "transform": [{"filter": "datum.p=='a'"}],
     "mark": {"type": "line", "interpolate": "monotone", "strokeWidth": 1.5},
     "encoding": {
      "x": {"field": "x", "type": "quantitative", "scale": {"domain": [0, 15], "nice": false}, "axis": {"values": [0, 3, 6, 9, 12, 15], "title": "c₀ (mgL⁻¹)"}},
      "y": {"field": "y", "type": "quantitative", "scale": {"domain": [0, 1], "nice": false}, "axis": {"values": [0, 0.2, 0.4, 0.6, 0.8, 1], "format": ".1f", "title": "Rₗ"}},
      "color": {"field": "m", "type": "nominal", "sort": ["Cd", "Pb", "Ni", "Cu"], "scale": {"range": ["#D89A66", "#D6CD86", "#6C8EAE", "#8C8C8C"]},
        "legend": {"orient": "none", "legendX": 150, "legendY": -5, "title": null, "labelOffset": 32, "rowPadding": 1, "symbolType": "M-4.2,0H4.2", "symbolSize": 100, "symbolStrokeWidth": 1.5, "labelExpr": "' '"}}
     }},
    {"data": {"name": "pts"}, "transform": [{"filter": "datum.p=='a'"}],
     "mark": {"type": "point", "filled": true, "opacity": 1},
     "encoding": {
      "x": {"field": "x", "type": "quantitative"},
      "y": {"field": "y", "type": "quantitative"},
      "fill": {"field": "m", "type": "nominal", "scale": {"domain": ["Cd", "Pb", "Ni", "Cu"], "range": ["#EE7D2B", "#A39C2A", "#1D6A8E", "#FFFFFF"]},
        "legend": {"orient": "none", "legendX": 150, "legendY": -5, "title": null, "labelOffset": 32, "rowPadding": 1, "labelExpr": "datum.label=='Cd'?'Cd (R²= 0.9865)':datum.label=='Pb'?'Pb (R²= 0.9433)':datum.label=='Ni'?'Ni (R²= 0.9880)':'Cu'", "labelFont": {"expr": "datum.label=='Cu'?'Liberation Sans':'Liberation Serif'"}, "labelFontWeight": {"expr": "datum.label=='Cu'?'bold':'normal'"}}},
      "stroke": {"field": "m", "type": "nominal", "scale": {"domain": ["Cd", "Pb", "Ni", "Cu"], "range": ["#EE7D2B", "#A39C2A", "#1D6A8E", "#3A3A3A"]},
        "legend": {"orient": "none", "legendX": 150, "legendY": -5, "title": null, "labelOffset": 32, "rowPadding": 1}},
      "strokeWidth": {"field": "m", "type": "nominal", "scale": {"type": "ordinal", "domain": ["Cd", "Pb", "Ni", "Cu"], "range": [0, 0, 0, 3]},
        "legend": {"orient": "none", "legendX": 150, "legendY": -5, "title": null, "labelOffset": 32, "rowPadding": 1}},
      "shape": {"field": "m", "type": "nominal", "scale": {"domain": ["Cd", "Pb", "Ni", "Cu"], "range": ["square", "M-1,-0.64L-0.64,-1L0,-0.36L0.64,-1L1,-0.64L0.36,0L1,0.64L0.64,1L0,0.36L-0.64,1L-1,0.64L-0.36,0Z", "M0,-1L0.235,-0.324L0.951,-0.309L0.38,0.124L0.588,0.809L0,0.4L-0.588,0.809L-0.38,0.124L-0.951,-0.309L-0.235,-0.324Z", "square"]},
        "legend": {"orient": "none", "legendX": 150, "legendY": -5, "title": null, "labelOffset": 32, "rowPadding": 1}},
      "size": {"field": "m", "type": "nominal", "scale": {"type": "ordinal", "domain": ["Cd", "Pb", "Ni", "Cu"], "range": [170, 330, 330, 300]},
        "legend": {"orient": "none", "legendX": 150, "legendY": -5, "title": null, "labelOffset": 32, "rowPadding": 1}}
     }}
   ]},
  {"width": 337, "height": 225, "title": {"text": "(b) KP at 25 °C", "dx": -105},
   "layer": [
    {"data": {"name": "fit"}, "transform": [{"filter": "datum.p=='b'"}],
     "mark": {"type": "line", "interpolate": "monotone", "strokeWidth": 1.5},
     "encoding": {
      "x": {"field": "x", "type": "quantitative", "scale": {"domain": [0, 15], "nice": false}, "axis": {"values": [0, 3, 6, 9, 12, 15], "title": "c₀ (mgL⁻¹)"}},
      "y": {"field": "y", "type": "quantitative", "scale": {"domain": [0, 1], "nice": false}, "axis": {"values": [0, 0.2, 0.4, 0.6, 0.8, 1], "format": ".1f", "title": "Rₗ"}},
      "color": {"field": "m", "type": "nominal", "sort": ["Cd", "Cr", "Cu", "Pb", "Ni"], "scale": {"range": ["#D89A66", "#E2C46E", "#6E9C8C", "#D6CD86", "#6C8EAE"]},
        "legend": {"orient": "none", "legendX": 158, "legendY": -13, "title": null, "labelOffset": 30, "rowPadding": -2, "symbolType": "M-4.2,0H4.2", "symbolSize": 100, "symbolStrokeWidth": 1.5, "labelExpr": "' '"}}
     }},
    {"data": {"name": "pts"}, "transform": [{"filter": "datum.p=='b'"}],
     "mark": {"type": "point", "filled": true, "opacity": 1},
     "encoding": {
      "x": {"field": "x", "type": "quantitative"},
      "y": {"field": "y", "type": "quantitative"},
      "fill": {"field": "m", "type": "nominal", "scale": {"domain": ["Cd", "Cr", "Cu", "Pb", "Ni"], "range": ["#EE7D2B", "#F6BE26", "#1F6F46", "#A39C2A", "#1D6A8E"]},
        "legend": {"orient": "none", "legendX": 158, "legendY": -13, "title": null, "labelOffset": 30, "rowPadding": -2, "labelExpr": "datum.label=='Cd'?'Cd (R²= 0.9866)':datum.label=='Cr'?'Cr (R²= 0.9967)':datum.label=='Cu'?'Cu (R²= 0.9828)':datum.label=='Pb'?'Pb (R²= 0.9111)':'Ni (R²= 0.9916)'"}},
      "shape": {"field": "m", "type": "nominal", "scale": {"domain": ["Cd", "Cr", "Cu", "Pb", "Ni"], "range": ["square", "triangle-up", "triangle-down", "M-1,-0.64L-0.64,-1L0,-0.36L0.64,-1L1,-0.64L0.36,0L1,0.64L0.64,1L0,0.36L-0.64,1L-1,0.64L-0.36,0Z", "M0,-1L0.235,-0.324L0.951,-0.309L0.38,0.124L0.588,0.809L0,0.4L-0.588,0.809L-0.38,0.124L-0.951,-0.309L-0.235,-0.324Z"]},
        "legend": {"orient": "none", "legendX": 158, "legendY": -13, "title": null, "labelOffset": 30, "rowPadding": -2}},
      "size": {"field": "m", "type": "nominal", "scale": {"type": "ordinal", "domain": ["Cd", "Cr", "Cu", "Pb", "Ni"], "range": [170, 260, 260, 330, 330]},
        "legend": {"orient": "none", "legendX": 158, "legendY": -13, "title": null, "labelOffset": 30, "rowPadding": -2}}
     }}
   ]}
 ]},
{"spacing": 142, "resolve": {"scale": {"color": "independent", "fill": "independent", "shape": "independent", "size": "independent", "x": "independent", "y": "independent"}},
 "hconcat": [
  {"width": 337, "height": 225, "title": {"text": "(c) CP at 35 °C", "dx": -105},
   "layer": [
    {"data": {"name": "fit"}, "transform": [{"filter": "datum.p=='c'"}],
     "mark": {"type": "line", "interpolate": "monotone", "strokeWidth": 1.5},
     "encoding": {
      "x": {"field": "x", "type": "quantitative", "scale": {"domain": [0, 15], "nice": false}, "axis": {"values": [0, 3, 6, 9, 12, 15], "title": "c₀ (mgL⁻¹)"}},
      "y": {"field": "y", "type": "quantitative", "scale": {"domain": [0, 1], "nice": false}, "axis": {"values": [0, 0.2, 0.4, 0.6, 0.8, 1], "format": ".1f", "title": "Rₗ"}},
      "color": {"field": "m", "type": "nominal", "sort": ["Cd", "Cu", "Pb", "Ni"], "scale": {"range": ["#D89A66", "#6E9C8C", "#D6CD86", "#6C8EAE"]},
        "legend": {"orient": "none", "legendX": 145, "legendY": -11, "title": null, "labelOffset": 31, "rowPadding": 4, "symbolType": "M-4.2,0H4.2", "symbolSize": 100, "symbolStrokeWidth": 1.5, "labelExpr": "' '"}}
     }},
    {"data": {"name": "pts"}, "transform": [{"filter": "datum.p=='c'"}],
     "mark": {"type": "point", "filled": true, "opacity": 1},
     "encoding": {
      "x": {"field": "x", "type": "quantitative"},
      "y": {"field": "y", "type": "quantitative"},
      "fill": {"field": "m", "type": "nominal", "scale": {"domain": ["Cd", "Cu", "Pb", "Ni"], "range": ["#EE7D2B", "#1F6F46", "#A39C2A", "#1D6A8E"]},
        "legend": {"orient": "none", "legendX": 145, "legendY": -11, "title": null, "labelOffset": 31, "rowPadding": 4, "labelExpr": "datum.label=='Cd'?'Cd (R²= 0.9868)':datum.label=='Cu'?'Cu (R²= 0.9856)':datum.label=='Pb'?'Pb (R²= 0.9647)':'Ni (R²= 0.9890)'"}},
      "shape": {"field": "m", "type": "nominal", "scale": {"domain": ["Cd", "Cu", "Pb", "Ni"], "range": ["square", "triangle-down", "M-1,-0.64L-0.64,-1L0,-0.36L0.64,-1L1,-0.64L0.36,0L1,0.64L0.64,1L0,0.36L-0.64,1L-1,0.64L-0.36,0Z", "M0,-1L0.235,-0.324L0.951,-0.309L0.38,0.124L0.588,0.809L0,0.4L-0.588,0.809L-0.38,0.124L-0.951,-0.309L-0.235,-0.324Z"]},
        "legend": {"orient": "none", "legendX": 145, "legendY": -11, "title": null, "labelOffset": 31, "rowPadding": 4}},
      "size": {"field": "m", "type": "nominal", "scale": {"type": "ordinal", "domain": ["Cd", "Cu", "Pb", "Ni"], "range": [170, 260, 330, 330]},
        "legend": {"orient": "none", "legendX": 145, "legendY": -11, "title": null, "labelOffset": 31, "rowPadding": 4}}
     }}
   ]},
  {"width": 337, "height": 225, "title": {"text": "(d) KP at 35 °C", "dx": -105},
   "layer": [
    {"data": {"name": "fit"}, "transform": [{"filter": "datum.p=='d'"}],
     "mark": {"type": "line", "interpolate": "monotone", "strokeWidth": 1.5},
     "encoding": {
      "x": {"field": "x", "type": "quantitative", "scale": {"domain": [0, 15], "nice": false}, "axis": {"values": [0, 3, 6, 9, 12, 15], "title": "c₀ (mgL⁻¹)"}},
      "y": {"field": "y", "type": "quantitative", "scale": {"domain": [0, 1], "nice": false}, "axis": {"values": [0, 0.2, 0.4, 0.6, 0.8, 1], "format": ".1f", "title": "Rₗ"}},
      "color": {"field": "m", "type": "nominal", "sort": ["Cd", "Cr", "Cu", "Pb", "Ni"], "scale": {"range": ["#D89A66", "#E2C46E", "#6E9C8C", "#D6CD86", "#6C8EAE"]},
        "legend": {"orient": "none", "legendX": 158, "legendY": -9, "title": null, "labelOffset": 30, "rowPadding": 2, "symbolType": "M-4.2,0H4.2", "symbolSize": 100, "symbolStrokeWidth": 1.5, "labelExpr": "' '"}}
     }},
    {"data": {"name": "pts"}, "transform": [{"filter": "datum.p=='d'"}],
     "mark": {"type": "point", "filled": true, "opacity": 1},
     "encoding": {
      "x": {"field": "x", "type": "quantitative"},
      "y": {"field": "y", "type": "quantitative"},
      "fill": {"field": "m", "type": "nominal", "scale": {"domain": ["Cd", "Cr", "Cu", "Pb", "Ni"], "range": ["#EE7D2B", "#F6BE26", "#1F6F46", "#A39C2A", "#1D6A8E"]},
        "legend": {"orient": "none", "legendX": 158, "legendY": -9, "title": null, "labelOffset": 30, "rowPadding": 2, "labelExpr": "datum.label=='Cd'?'Cd (R²= 0.9865)':datum.label=='Cr'?'Cr (R²= 0.9957)':datum.label=='Cu'?'Cu (R²= 0.9828)':datum.label=='Pb'?'Pb (R²= 0.9305)':'Ni (R²= 0.9927)'"}},
      "shape": {"field": "m", "type": "nominal", "scale": {"domain": ["Cd", "Cr", "Cu", "Pb", "Ni"], "range": ["square", "triangle-up", "triangle-down", "M-1,-0.64L-0.64,-1L0,-0.36L0.64,-1L1,-0.64L0.36,0L1,0.64L0.64,1L0,0.36L-0.64,1L-1,0.64L-0.36,0Z", "M0,-1L0.235,-0.324L0.951,-0.309L0.38,0.124L0.588,0.809L0,0.4L-0.588,0.809L-0.38,0.124L-0.951,-0.309L-0.235,-0.324Z"]},
        "legend": {"orient": "none", "legendX": 158, "legendY": -9, "title": null, "labelOffset": 30, "rowPadding": 2}},
      "size": {"field": "m", "type": "nominal", "scale": {"type": "ordinal", "domain": ["Cd", "Cr", "Cu", "Pb", "Ni"], "range": [170, 260, 260, 330, 330]},
        "legend": {"orient": "none", "legendX": 158, "legendY": -9, "title": null, "labelOffset": 30, "rowPadding": 2}}
     }}
   ]}
 ]}
 ]},
{"spacing": 28, "resolve": {"scale": {"color": "independent", "fill": "independent", "shape": "independent", "size": "independent", "x": "independent", "y": "independent"}},
 "vconcat": [
{"spacing": 142, "resolve": {"scale": {"color": "independent", "fill": "independent", "shape": "independent", "size": "independent", "x": "independent", "y": "independent"}},
 "hconcat": [
  {"width": 337, "height": 225, "title": {"text": "(e) CP at 45 °C", "dx": -105},
   "layer": [
    {"data": {"name": "fit"}, "transform": [{"filter": "datum.p=='e'"}],
     "mark": {"type": "line", "interpolate": "monotone", "strokeWidth": 1.5},
     "encoding": {
      "x": {"field": "x", "type": "quantitative", "scale": {"domain": [0, 15], "nice": false}, "axis": {"values": [0, 3, 6, 9, 12, 15], "title": "c₀ (mgL⁻¹)"}},
      "y": {"field": "y", "type": "quantitative", "scale": {"domain": [0, 1], "nice": false}, "axis": {"values": [0, 0.2, 0.4, 0.6, 0.8, 1], "format": ".1f", "title": "Rₗ"}},
      "color": {"field": "m", "type": "nominal", "sort": ["Cd", "Cu", "Pb", "Ni"], "scale": {"range": ["#D89A66", "#6E9C8C", "#D6CD86", "#6C8EAE"]},
        "legend": {"orient": "none", "legendX": 147, "legendY": -8, "title": null, "labelOffset": 33, "rowPadding": 0, "symbolType": "M-4.2,0H4.2", "symbolSize": 100, "symbolStrokeWidth": 1.5, "labelExpr": "' '"}}
     }},
    {"data": {"name": "pts"}, "transform": [{"filter": "datum.p=='e'"}],
     "mark": {"type": "point", "filled": true, "opacity": 1},
     "encoding": {
      "x": {"field": "x", "type": "quantitative"},
      "y": {"field": "y", "type": "quantitative"},
      "fill": {"field": "m", "type": "nominal", "scale": {"domain": ["Cd", "Cu", "Pb", "Ni"], "range": ["#EE7D2B", "#1F6F46", "#A39C2A", "#1D6A8E"]},
        "legend": {"orient": "none", "legendX": 147, "legendY": -8, "title": null, "labelOffset": 33, "rowPadding": 0, "labelExpr": "datum.label=='Cd'?'Cd (R²= 0.9865)':datum.label=='Cu'?'Cu (R²= 0.9847)':datum.label=='Pb'?'Pb (R²= 0.9679)':'Ni (R²= 0.9924)'"}},
      "shape": {"field": "m", "type": "nominal", "scale": {"domain": ["Cd", "Cu", "Pb", "Ni"], "range": ["square", "triangle-down", "M-1,-0.64L-0.64,-1L0,-0.36L0.64,-1L1,-0.64L0.36,0L1,0.64L0.64,1L0,0.36L-0.64,1L-1,0.64L-0.36,0Z", "M0,-1L0.235,-0.324L0.951,-0.309L0.38,0.124L0.588,0.809L0,0.4L-0.588,0.809L-0.38,0.124L-0.951,-0.309L-0.235,-0.324Z"]},
        "legend": {"orient": "none", "legendX": 147, "legendY": -8, "title": null, "labelOffset": 33, "rowPadding": 0}},
      "size": {"field": "m", "type": "nominal", "scale": {"type": "ordinal", "domain": ["Cd", "Cu", "Pb", "Ni"], "range": [170, 260, 330, 330]},
        "legend": {"orient": "none", "legendX": 147, "legendY": -8, "title": null, "labelOffset": 33, "rowPadding": 0}}
     }}
   ]},
  {"width": 337, "height": 225, "title": {"text": "(f) KP at 45 °C", "dx": -105},
   "layer": [
    {"data": {"name": "fit"}, "transform": [{"filter": "datum.p=='f'"}],
     "mark": {"type": "line", "interpolate": "monotone", "strokeWidth": 1.5},
     "encoding": {
      "x": {"field": "x", "type": "quantitative", "scale": {"domain": [0, 15], "nice": false}, "axis": {"values": [0, 3, 6, 9, 12, 15], "title": "c₀ (mgL⁻¹)"}},
      "y": {"field": "y", "type": "quantitative", "scale": {"domain": [0, 1], "nice": false}, "axis": {"values": [0, 0.2, 0.4, 0.6, 0.8, 1], "format": ".1f", "title": "Rₗ"}},
      "color": {"field": "m", "type": "nominal", "sort": ["Cd", "Cr", "Cu", "Pb", "Ni"], "scale": {"range": ["#D89A66", "#E2C46E", "#6E9C8C", "#D6CD86", "#6C8EAE"]},
        "legend": {"orient": "none", "legendX": 155, "legendY": -7, "title": null, "labelOffset": 33, "rowPadding": 0, "symbolType": "M-4.2,0H4.2", "symbolSize": 100, "symbolStrokeWidth": 1.5, "labelExpr": "' '"}}
     }},
    {"data": {"name": "pts"}, "transform": [{"filter": "datum.p=='f'"}],
     "mark": {"type": "point", "filled": true, "opacity": 1},
     "encoding": {
      "x": {"field": "x", "type": "quantitative"},
      "y": {"field": "y", "type": "quantitative"},
      "fill": {"field": "m", "type": "nominal", "scale": {"domain": ["Cd", "Cr", "Cu", "Pb", "Ni"], "range": ["#EE7D2B", "#F6BE26", "#1F6F46", "#A39C2A", "#1D6A8E"]},
        "legend": {"orient": "none", "legendX": 155, "legendY": -7, "title": null, "labelOffset": 33, "rowPadding": 0, "labelExpr": "datum.label=='Cd'?'Cd (R²= 0.9897)':datum.label=='Cr'?'Cr (R²= 0.9961)':datum.label=='Cu'?'Cu (R²= 0.9870)':datum.label=='Pb'?'Pb (R²= 0.9851)':'Ni (R²= 0.9912)'"}},
      "shape": {"field": "m", "type": "nominal", "scale": {"domain": ["Cd", "Cr", "Cu", "Pb", "Ni"], "range": ["square", "triangle-up", "triangle-down", "M-1,-0.64L-0.64,-1L0,-0.36L0.64,-1L1,-0.64L0.36,0L1,0.64L0.64,1L0,0.36L-0.64,1L-1,0.64L-0.36,0Z", "M0,-1L0.235,-0.324L0.951,-0.309L0.38,0.124L0.588,0.809L0,0.4L-0.588,0.809L-0.38,0.124L-0.951,-0.309L-0.235,-0.324Z"]},
        "legend": {"orient": "none", "legendX": 155, "legendY": -7, "title": null, "labelOffset": 33, "rowPadding": 0}},
      "size": {"field": "m", "type": "nominal", "scale": {"type": "ordinal", "domain": ["Cd", "Cr", "Cu", "Pb", "Ni"], "range": [170, 260, 260, 330, 330]},
        "legend": {"orient": "none", "legendX": 155, "legendY": -7, "title": null, "labelOffset": 33, "rowPadding": 0}}
     }}
   ]}
 ]},
{"spacing": 142, "resolve": {"scale": {"color": "independent", "fill": "independent", "shape": "independent", "size": "independent", "x": "independent", "y": "independent"}},
 "hconcat": [
  {"width": 337, "height": 225, "title": {"text": "(g) CP at 55 °C", "dx": -105},
   "layer": [
    {"data": {"name": "fit"}, "transform": [{"filter": "datum.p=='g'"}],
     "mark": {"type": "line", "interpolate": "monotone", "strokeWidth": 1.5},
     "encoding": {
      "x": {"field": "x", "type": "quantitative", "scale": {"domain": [0, 15], "nice": false}, "axis": {"values": [0, 3, 6, 9, 12, 15], "title": "c₀ (mgL⁻¹)"}},
      "y": {"field": "y", "type": "quantitative", "scale": {"domain": [0, 1], "nice": false}, "axis": {"values": [0, 0.2, 0.4, 0.6, 0.8, 1], "format": ".1f", "title": "Rₗ"}},
      "color": {"field": "m", "type": "nominal", "sort": ["Cd", "Cu", "Pb", "Ni"], "scale": {"range": ["#D89A66", "#6E9C8C", "#D6CD86", "#6C8EAE"]},
        "legend": {"orient": "none", "legendX": 145, "legendY": -8, "title": null, "labelOffset": 31, "rowPadding": -2, "symbolType": "M-4.2,0H4.2", "symbolSize": 100, "symbolStrokeWidth": 1.5, "labelExpr": "' '"}}
     }},
    {"data": {"name": "pts"}, "transform": [{"filter": "datum.p=='g'"}],
     "mark": {"type": "point", "filled": true, "opacity": 1},
     "encoding": {
      "x": {"field": "x", "type": "quantitative"},
      "y": {"field": "y", "type": "quantitative"},
      "fill": {"field": "m", "type": "nominal", "scale": {"domain": ["Cd", "Cu", "Pb", "Ni"], "range": ["#EE7D2B", "#1F6F46", "#A39C2A", "#1D6A8E"]},
        "legend": {"orient": "none", "legendX": 145, "legendY": -8, "title": null, "labelOffset": 31, "rowPadding": -2, "labelExpr": "datum.label=='Cd'?'Cd (R²= 0.9865)':datum.label=='Cu'?'Cu (R²= 0.9864)':datum.label=='Pb'?'Pb (R²= 0.9542)':'Ni (R²= 0.9918)'"}},
      "shape": {"field": "m", "type": "nominal", "scale": {"domain": ["Cd", "Cu", "Pb", "Ni"], "range": ["square", "triangle-down", "M-1,-0.64L-0.64,-1L0,-0.36L0.64,-1L1,-0.64L0.36,0L1,0.64L0.64,1L0,0.36L-0.64,1L-1,0.64L-0.36,0Z", "M0,-1L0.235,-0.324L0.951,-0.309L0.38,0.124L0.588,0.809L0,0.4L-0.588,0.809L-0.38,0.124L-0.951,-0.309L-0.235,-0.324Z"]},
        "legend": {"orient": "none", "legendX": 145, "legendY": -8, "title": null, "labelOffset": 31, "rowPadding": -2}},
      "size": {"field": "m", "type": "nominal", "scale": {"type": "ordinal", "domain": ["Cd", "Cu", "Pb", "Ni"], "range": [170, 260, 330, 330]},
        "legend": {"orient": "none", "legendX": 145, "legendY": -8, "title": null, "labelOffset": 31, "rowPadding": -2}}
     }}
   ]},
  {"width": 337, "height": 225, "title": {"text": "(h) KP at 55 °C", "dx": -105},
   "layer": [
    {"data": {"name": "fit"}, "transform": [{"filter": "datum.p=='h'"}],
     "mark": {"type": "line", "interpolate": "monotone", "strokeWidth": 1.5},
     "encoding": {
      "x": {"field": "x", "type": "quantitative", "scale": {"domain": [0, 15], "nice": false}, "axis": {"values": [0, 3, 6, 9, 12, 15], "title": "c₀ (mgL⁻¹)"}},
      "y": {"field": "y", "type": "quantitative", "scale": {"domain": [0, 1], "nice": false}, "axis": {"values": [0, 0.2, 0.4, 0.6, 0.8, 1], "format": ".1f", "title": "Rₗ"}},
      "color": {"field": "m", "type": "nominal", "sort": ["Cd", "Cr", "Cu", "Pb", "Ni"], "scale": {"range": ["#D89A66", "#E2C46E", "#6E9C8C", "#D6CD86", "#6C8EAE"]},
        "legend": {"orient": "none", "legendX": 158, "legendY": -8, "title": null, "labelOffset": 32, "rowPadding": 2, "symbolType": "M-4.2,0H4.2", "symbolSize": 100, "symbolStrokeWidth": 1.5, "labelExpr": "' '"}}
     }},
    {"data": {"name": "pts"}, "transform": [{"filter": "datum.p=='h'"}],
     "mark": {"type": "point", "filled": true, "opacity": 1},
     "encoding": {
      "x": {"field": "x", "type": "quantitative"},
      "y": {"field": "y", "type": "quantitative"},
      "fill": {"field": "m", "type": "nominal", "scale": {"domain": ["Cd", "Cr", "Cu", "Pb", "Ni"], "range": ["#EE7D2B", "#F6BE26", "#1F6F46", "#A39C2A", "#1D6A8E"]},
        "legend": {"orient": "none", "legendX": 158, "legendY": -8, "title": null, "labelOffset": 32, "rowPadding": 2, "labelExpr": "datum.label=='Cd'?'Cd (R²= 0.9868)':datum.label=='Cr'?'Cr (R²= 0.9944)':datum.label=='Cu'?'Cu (R²= 0.9833)':datum.label=='Pb'?'Pb (R²= 0.9858)':'Ni (R²= 0.9928)'"}},
      "shape": {"field": "m", "type": "nominal", "scale": {"domain": ["Cd", "Cr", "Cu", "Pb", "Ni"], "range": ["square", "triangle-up", "triangle-down", "M-1,-0.64L-0.64,-1L0,-0.36L0.64,-1L1,-0.64L0.36,0L1,0.64L0.64,1L0,0.36L-0.64,1L-1,0.64L-0.36,0Z", "M0,-1L0.235,-0.324L0.951,-0.309L0.38,0.124L0.588,0.809L0,0.4L-0.588,0.809L-0.38,0.124L-0.951,-0.309L-0.235,-0.324Z"]},
        "legend": {"orient": "none", "legendX": 158, "legendY": -8, "title": null, "labelOffset": 32, "rowPadding": 2}},
      "size": {"field": "m", "type": "nominal", "scale": {"type": "ordinal", "domain": ["Cd", "Cr", "Cu", "Pb", "Ni"], "range": [170, 260, 260, 330, 330]},
        "legend": {"orient": "none", "legendX": 158, "legendY": -8, "title": null, "labelOffset": 32, "rowPadding": 2}}
     }}
   ]}
 ]}
 ]}
]
}
